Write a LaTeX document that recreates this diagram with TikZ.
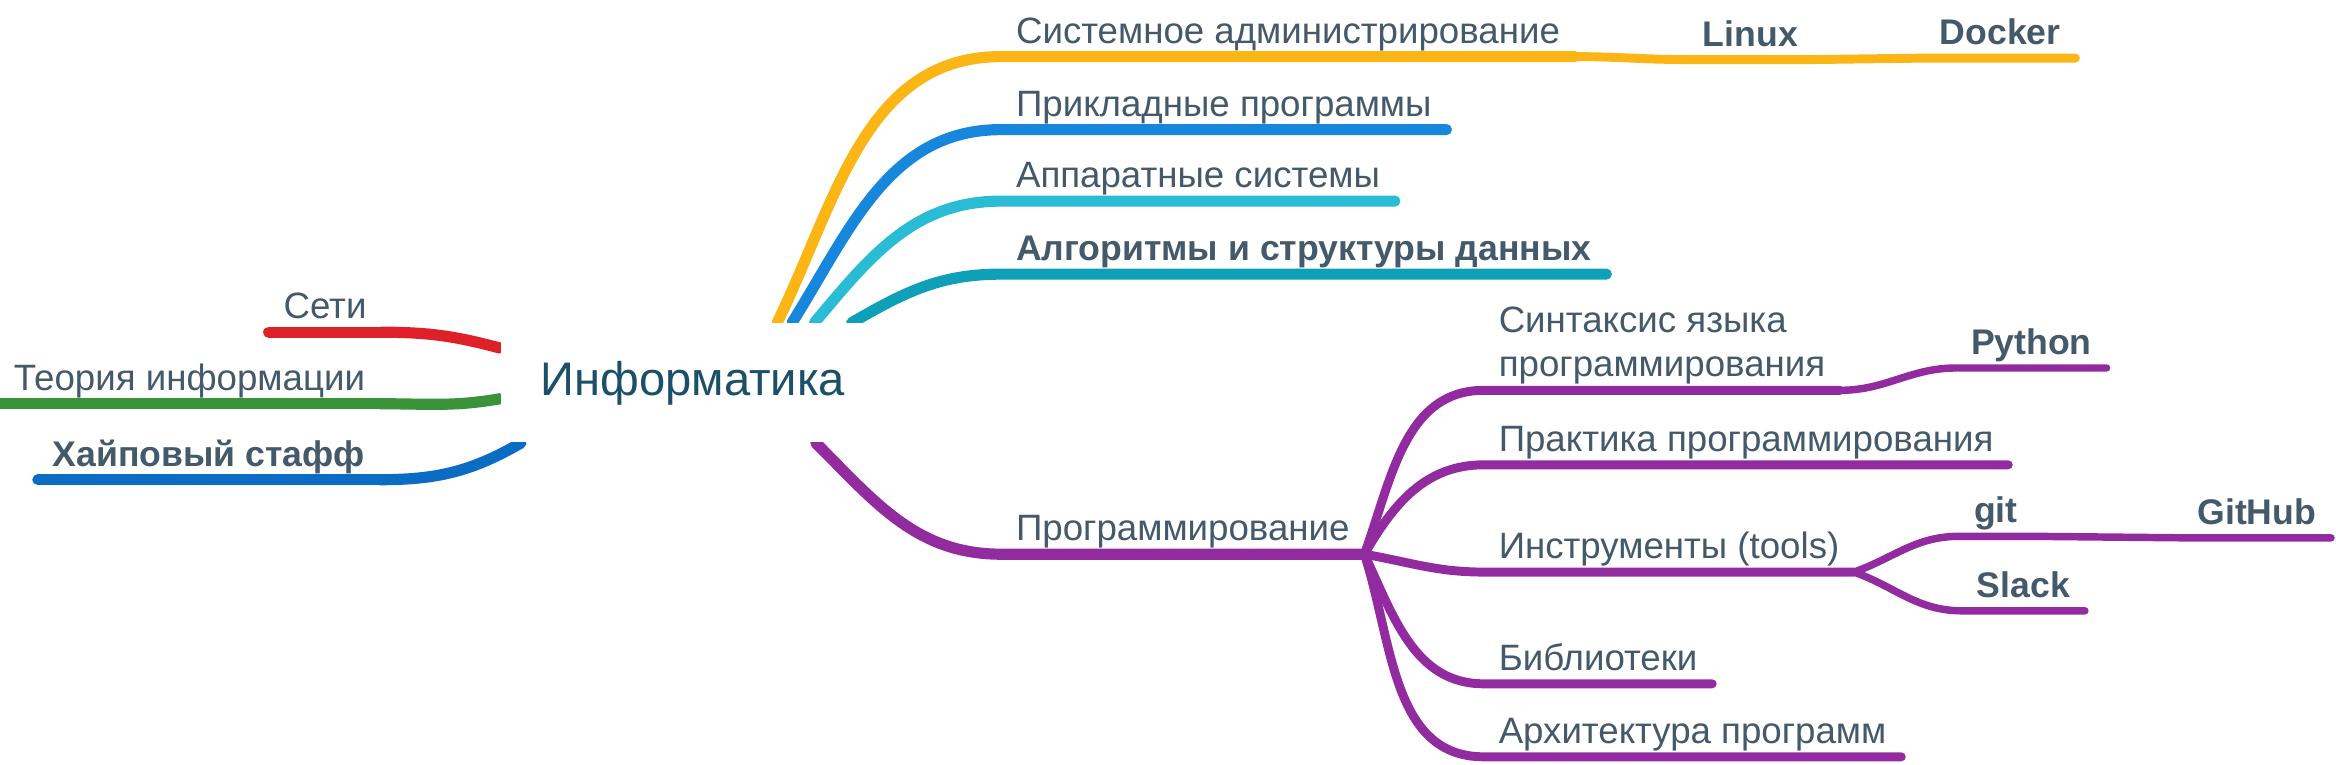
\documentclass[tikz,border=0pt]{standalone}
\usepackage{fontspec}
\setmainfont{Liberation Sans}
\usetikzlibrary{calc,backgrounds}
\definecolor{txt}{HTML}{44596A}
\definecolor{ctxt}{HTML}{1B5068}
\definecolor{csys}{HTML}{FBB514}
\definecolor{capp}{HTML}{1787DD}
\definecolor{chw}{HTML}{29BCD4}
\definecolor{calg}{HTML}{0EA0B7}
\definecolor{cprog}{HTML}{932BA0}
\definecolor{cnet}{HTML}{DE2128}
\definecolor{cinf}{HTML}{3A9338}
\definecolor{chype}{HTML}{0A6CC2}
\tikzset{
  lbl/.style={inner xsep=2mm, inner ysep=1.8mm, outer sep=0pt, text depth=0pt,
    font=\fontsize{14}{17}\selectfont, text=txt},
  lblr/.style={lbl, anchor=south west},
  lbll/.style={lbl, anchor=south east},
  bf/.style={font=\fontsize{13.6}{17}\selectfont\bfseries},
  br/.style={line width=1.5mm, line cap=round},
  sub/.style={line width=1.2mm, line cap=round},
  leaf/.style={line width=1mm, line cap=round},
}

\begin{document}
\begin{tikzpicture}[x=0.2mm, y=0.2mm]
  \useasboundingbox (0,0) rectangle (1568,513);
  % centre
  \node[fill=white, inner sep=0pt, minimum width=51.6mm, minimum height=16mm,
    font=\fontsize{18}{20}\selectfont, text=ctxt] (info) at (465,256) {Информатика};
  % left side
  \node[lbll] (nets) at (256,290) {Сети};
  \node[lbll] (infoth) at (255,242) {Теория информации};
  \node[lbll, bf] (hype) at (255,191) {Хайповый стафф};
  % right side
  \node[lblr] (sysadm) at (672,475) {Системное администрирование};
  \node[lblr] (apps) at (672,426) {Прикладные программы};
  \node[lblr] (hw) at (672,378) {Аппаратные системы};
  \node[lblr, bf] (algo) at (672,329) {Алгоритмы и структуры данных};
  \node[lblr] (prog) at (672,141) {Программирование};
  \node[lblr, bf] (linux) at (1133,473) {Linux};
  \node[lblr, bf] (docker) at (1292,474) {Docker};
  \node[lblr, align=left] (syntax) at (996,251) {Синтаксис языка\\программирования};
  \node[lblr, bf] (python) at (1313,266) {Python};
  \node[lblr] (practice) at (996,201) {Практика программирования};
  \node[lblr] (tools) at (996,129) {Инструменты (tools)};
  \node[lblr, bf] (git) at (1315,153) {git};
  \node[lblr, bf] (github) at (1465,152) {GitHub};
  \node[lblr, bf] (slack) at (1317,103) {Slack};
  \node[lblr] (libs) at (996,54) {Библиотеки};
  \node[lblr] (arch) at (996,5) {Архитектура программ};
  % where the branches leave the centre
  \coordinate (ys) at ($(info.north west)+(186,0)$);
  \coordinate (as) at ($(info.north west)+(196,0)$);
  \coordinate (hs) at ($(info.north west)+(211,0)$);
  \coordinate (gs) at ($(info.north west)+(236,0)$);
  \coordinate (ps) at ($(info.south west)+(212,0)$);
  \coordinate (ns) at ($(info.north west)+(0,-17)$);
  \coordinate (is) at ($(info.north west)+(0,-51)$);
  \coordinate (hs2) at ($(info.south west)+(14,0)$);
  \begin{scope}[on background layer]
    \draw[br, cnet] (nets.south east) to[out=0, in=165] (ns);
    \draw[br, cnet] (nets.south east) -- (nets.south west);
    \draw[br, cinf] (infoth.south east) to[out=0, in=190] (is);
    \draw[br, cinf] (infoth.south east) -- (infoth.south west);
    \draw[br, chype] (hype.south east) to[out=0, in=210] (hs2);
    \draw[br, chype] (hype.south east) -- (hype.south west);
    \draw[br, csys] (ys) to[out=64, in=180] (sysadm.south west) -- (sysadm.south east);
    \draw[sub, csys] (sysadm.south east) to[out=0, in=180] (linux.south west)
      -- (linux.south east) -- (docker.south west) -- (docker.south east);
    \draw[br, capp] (as) to[out=58, in=180] (apps.south west) -- (apps.south east);
    \draw[br, chw] (hs) to[out=50, in=180] (hw.south west) -- (hw.south east);
    \draw[br, calg] (gs) to[out=30, in=180] (algo.south west) -- (algo.south east);
    \draw[br, cprog] (ps) to[out=-45, in=180] (prog.south west) -- (prog.south east);
    \draw[sub, cprog] (prog.south east) to[out=70, in=180] (syntax.south west) -- (syntax.south east);
    \draw[leaf, cprog] (syntax.south east) to[out=0, in=180] (python.south west) -- (python.south east);
    \draw[sub, cprog] (prog.south east) to[out=60, in=180] (practice.south west) -- (practice.south east);
    \draw[sub, cprog] (prog.south east) to[out=-10, in=180] (tools.south west) -- (tools.south east);
    \draw[leaf, cprog] (tools.south east) to[out=20, in=180] (git.south west) -- (git.south east)
      -- (github.south west) -- (github.south east);
    \draw[leaf, cprog] (tools.south east) to[out=-20, in=180] (slack.south west) -- (slack.south east);
    \draw[sub, cprog] (prog.south east) to[out=-65, in=180] (libs.south west) -- (libs.south east);
    \draw[sub, cprog] (prog.south east) to[out=-72, in=180] (arch.south west) -- (arch.south east);
  \end{scope}
\end{tikzpicture}
\end{document}
